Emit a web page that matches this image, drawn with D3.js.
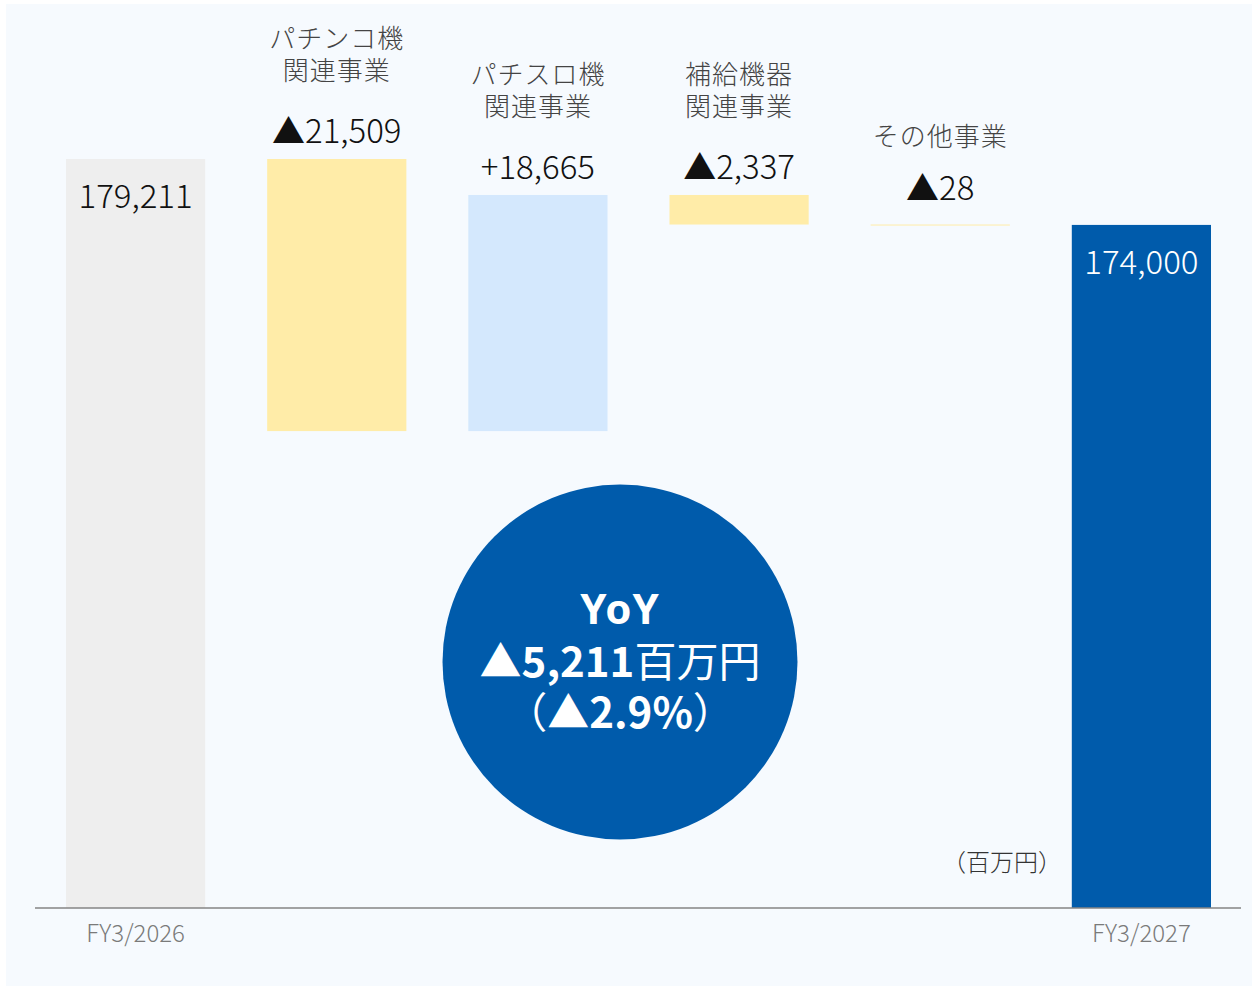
<!DOCTYPE html>
<html><head><meta charset="utf-8">
<script src="https://cdn.jsdelivr.net/npm/d3@7/dist/d3.min.js"></script>
<style>
html,body{margin:0;padding:0;background:#fff;}
svg{display:block;font-family:"Noto Sans CJK JP","Noto Sans",sans-serif;}
</style></head>
<body>
<svg id="chart" width="1258" height="988"></svg>
<script>
// ---- data ----
const categories = ["FY3/2026", "パチンコ機\n関連事業", "パチスロ機\n関連事業", "補給機器\n関連事業", "その他事業", "FY3/2027"];
const kinds = ["total", "delta", "delta", "delta", "delta", "total"];
const values = [179211, -21509, 18665, -2337, -28, 174000];
const valueLabels = ["179,211", "▲21,509", "+18,665", "▲2,337", "▲28", "174,000"];
const axisLabels = ["FY3/2026", "", "", "", "", "FY3/2027"];
const yoyLines = ["YoY", "▲5,211百万円", "（▲2.9%）"];
const unitLabel = "（百万円）";

// ---- build waterfall ----
let level = 0;
const bars = values.map((v, i) => {
  let y0, y1;
  if (kinds[i] === "total") { y0 = 120000; y1 = v; level = v; }
  else { y0 = level; y1 = level + v; level = y1; }
  return { i, cat: categories[i], kind: kinds[i], v, lo: Math.min(y0, y1), hi: Math.max(y0, y1), label: valueLabels[i], axis: axisLabels[i] };
});

const svg = d3.select("#chart");
svg.append("rect").attr("x", 6).attr("y", 4).attr("width", 1246).attr("height", 982).attr("fill", "#f6fafe");

const x = d3.scaleBand().domain(categories).range([66, 1211]).paddingInner(0.308).paddingOuter(0);
const y = d3.scaleLinear().domain([120000, 180000]).range([908, 908 - 60000 * 749 / 59211]);

const color = (d) => {
  if (d.i === 0) return "#eeeeee";
  if (d.kind === "total") return "#005bab";
  return d.v < 0 ? "#ffeca8" : "#d4e8fd";
};

svg.append("g").selectAll("rect").data(bars).join("rect")
  .attr("x", d => x(d.cat))
  .attr("width", x.bandwidth())
  .attr("y", d => y(d.hi))
  .attr("height", d => Math.max(1, y(d.lo) - y(d.hi)))
  .attr("fill", color);

// axis baseline
const axis = d3.axisBottom(x).tickSize(0).tickFormat((c, i) => axisLabels[i]);
const gAxis = svg.append("g").attr("transform", "translate(0,908)").call(axis);
gAxis.select(".domain").attr("d", "M35,0H1241").attr("stroke", "#858585").attr("stroke-width", 1.5);
gAxis.selectAll("text").attr("dy", 0).attr("y", 34).attr("font-size", 24).attr("fill", "#7a7a7a")
  .attr("font-family", "\"Noto Sans CJK JP\", sans-serif").attr("font-weight", 300);

// value labels
const cx = d => x(d.cat) + x.bandwidth() / 2;
svg.append("g").selectAll("text").data(bars).join("text")
  .attr("x", cx)
  .attr("y", d => d.kind === "total" ? y(d.hi) + 49 : y(d.hi) - (d.i === 4 ? 25 : 16))
  .attr("text-anchor", "middle")
  .attr("font-size", 33)
  .attr("font-weight", 300)
  .attr("fill", d => d.i === 5 ? "#ffffff" : "#111111")
  .text(d => d.label);

// category labels for deltas
const cg = svg.append("g");
bars.filter(d => d.kind === "delta").forEach(d => {
  const lines = d.cat.split("\n");
  const base = y(d.hi) - 79;
  const t = cg.append("text")
    .attr("text-anchor", "middle")
    .attr("font-size", 26)
    .attr("font-weight", 300)
    .attr("letter-spacing", 1)
    .attr("fill", "#444444");
  lines.forEach((ln, k) => {
    t.append("tspan")
      .attr("x", cx(d))
      .attr("y", base - (lines.length - 1 - k) * 32)
      .text(ln);
  });
});

// unit label
svg.append("text").attr("x", 1062).attr("y", 871).attr("text-anchor", "end")
  .attr("font-size", 24).attr("fill", "#333").attr("font-weight", 300).text(unitLabel);

// YoY circle
const circ = svg.append("g").attr("transform", "translate(620,662)");
circ.append("circle").attr("r", 177.5).attr("fill", "#005bab");
const tc = circ.append("text").attr("text-anchor", "middle").attr("fill", "#fff").attr("font-size", 42);
tc.append("tspan").attr("x", 0).attr("y", -38).attr("font-weight", 700)
  .attr("font-family", "\"Noto Sans\", sans-serif").attr("letter-spacing", 1).text(yoyLines[0]);
tc.append("tspan").attr("x", 0).attr("y", 15).attr("font-weight", 700).text("▲5,211");
tc.append("tspan").attr("font-weight", 400).text("百万円");
tc.append("tspan").attr("x", 0).attr("y", 66).attr("font-weight", 400).text("（");
tc.append("tspan").attr("font-weight", 700).text("▲2.9%");
tc.append("tspan").attr("font-weight", 400).text("）");
</script>
</body></html>
